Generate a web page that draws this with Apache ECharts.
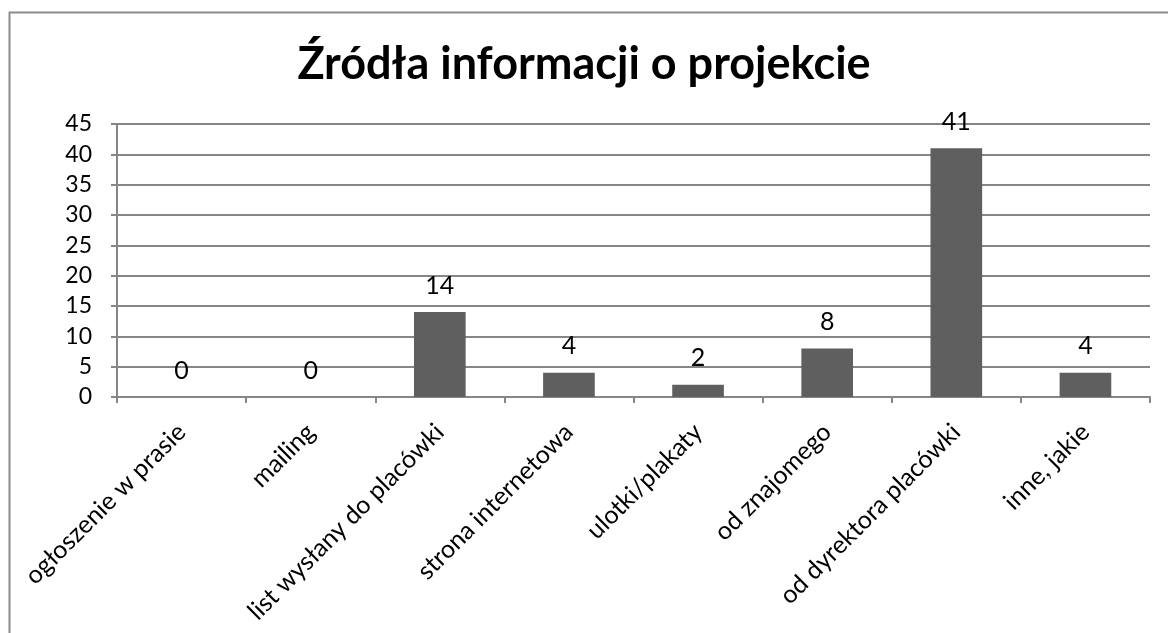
<!DOCTYPE html>
<html>
<head>
<meta charset="utf-8">
<script src="https://cdn.jsdelivr.net/npm/echarts@6/dist/echarts.min.js"></script>
<style>
  html, body { margin: 0; padding: 0; background: #fff; }
  #chart { width: 1168px; height: 633px; }
</style>
</head>
<body>
<div id="chart"></div>
<script>
// chart data
const categories = [
  "ogłoszenie w prasie",
  "mailing",
  "list wysłany do placówki",
  "strona internetowa",
  "ulotki/plakaty",
  "od znajomego",
  "od dyrektora placówki",
  "inne, jakie"
];
const values = [0, 0, 14, 4, 2, 8, 41, 4];
const titleText = "Źródła informacji o projekcie";

const font = "Lato, 'Open Sans', sans-serif";
const chart = echarts.init(document.getElementById("chart"));

chart.setOption({
  animation: false,
  backgroundColor: "#fff",
  graphic: [
    {
      type: "rect",
      shape: { x: 9.5, y: 12.5, width: 1200, height: 700 },
      style: { fill: "none", stroke: "#8c8c8c", lineWidth: 2 },
      silent: true
    }
  ],
  title: {
    text: titleText,
    left: "center",
    top: 37,
    textStyle: { fontFamily: font, fontSize: 45, fontWeight: "bold", color: "#000" }
  },
  grid: { left: 117, right: 18, top: 124, bottom: 236, containLabel: false },
  xAxis: {
    type: "category",
    data: categories,
    axisLine: { lineStyle: { color: "#868686", width: 2 } },
    axisTick: { show: true, length: 6, lineStyle: { color: "#868686", width: 2 } },
    axisLabel: {
      rotate: 45,
      interval: 0,
      margin: 31,
      fontFamily: font,
      fontSize: 25,
      color: "#000"
    }
  },
  yAxis: {
    type: "value",
    min: 0,
    max: 45,
    interval: 5,
    axisLine: { show: true, lineStyle: { color: "#868686", width: 2 } },
    axisTick: { show: true, length: 6, lineStyle: { color: "#868686", width: 2 } },
    splitLine: { lineStyle: { color: "#868686", width: 2 } },
    axisLabel: { fontFamily: font, fontSize: 23, color: "#000", margin: 25 }
  },
  series: [
    {
      type: "bar",
      data: values,
      barWidth: "40%",
      itemStyle: { color: "#5f5f5f" },
      label: {
        show: true,
        position: "top",
        distance: 14,
        fontFamily: font,
        fontSize: 25,
        color: "#000"
      }
    }
  ]
});
</script>
</body>
</html>
